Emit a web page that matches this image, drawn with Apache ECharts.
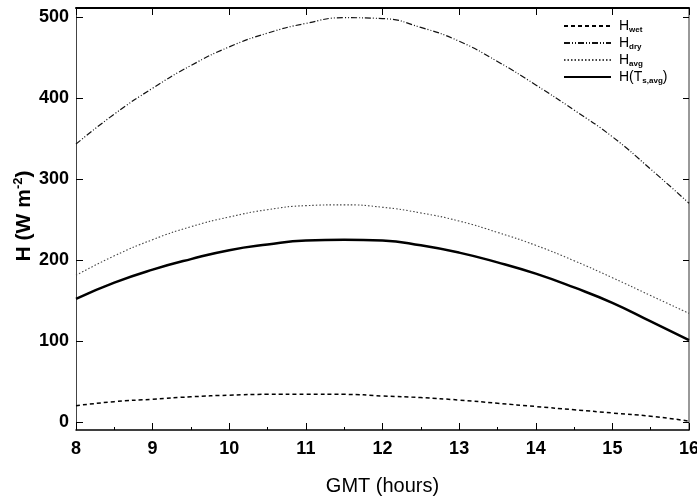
<!DOCTYPE html>
<html>
<head>
<meta charset="utf-8">
<script src="https://cdn.jsdelivr.net/npm/echarts@6/dist/echarts.min.js"></script>
<style>html,body{margin:0;padding:0;background:#fff}#c{width:697px;height:497px}</style>
</head>
<body>
<div id="c"></div>
<script>
var hours = [8, 8.5, 9, 9.5, 10, 10.5, 11, 11.5, 12, 12.5, 13, 13.5, 14, 14.5, 15, 15.5, 16];
var hWet = [20, 25, 28, 31, 33, 34, 34, 34, 32, 30, 27, 23, 19, 15, 11, 7, 1];
var hDry = [343, 380, 412, 440, 463, 480, 492, 499, 498, 487, 470, 445, 416, 385, 352, 312, 270];
var hAvg = [181, 205, 225, 241, 253, 262, 267, 268, 265, 258, 248, 234, 218, 199, 178, 156, 134];
var hTs = [152, 172, 188, 201, 212, 219, 224, 225, 224, 218, 209, 197, 183, 166, 147, 124, 101];
var yTicks = [0, 100, 200, 300, 400, 500];
var seriesNames = ['H_wet', 'H_dry', 'H_avg', 'H_Ts'];

function pairs(v){ return hours.map(function(h,i){ return [h, v[i]]; }); }
var font = 'Liberation Sans, Arial, Helvetica, sans-serif';
var chart = echarts.init(document.getElementById('c'));
var legendLabels = {
  'H_wet': '{m|H}{s|wet}',
  'H_dry': '{m|H}{s|dry}',
  'H_avg': '{m|H}{s|avg}',
  'H_Ts': '{m|H(T}{s|s,avg}{m|)}'
};
function mk(name, data, ls){
  return {name:name, type:'line', data:pairs(data), smooth:true, symbol:'none', showSymbol:false,
    xAxisIndex:0, yAxisIndex:0, lineStyle:ls, itemStyle:{color:ls.color}};
}
chart.setOption({
  animation:false,
  backgroundColor:'#fff',
  grid:{left:76, right:8, top:8, bottom:67, outerBoundsMode:'none', containLabel:false},
  legend:{
    orient:'vertical', left:558, top:13, itemWidth:47, itemHeight:16, itemGap:1,
    data:seriesNames,
    itemStyle:{opacity:0},
    formatter:function(n){ return legendLabels[n]; },
    textStyle:{fontFamily:font, color:'#000', lineHeight:16, padding:[0,0,0,3],
      rich:{m:{fontSize:14, fontFamily:font, color:'#000', lineHeight:16},
            s:{fontSize:8, fontWeight:'bold', fontFamily:font, color:'#000', verticalAlign:'bottom', lineHeight:16}}}
  },
  xAxis:[{
    type:'value', min:8, max:16, interval:1, position:'bottom',
    name:'GMT (hours)', nameLocation:'middle', nameGap:46, nameMoveOverlap:false,
    nameTextStyle:{fontFamily:font, fontSize:20, color:'#000'},
    axisLine:{onZero:false, lineStyle:{color:'#000', width:1.5}},
    axisTick:{inside:true, length:7, lineStyle:{color:'#000'}},
    minorTick:{show:true, splitNumber:2, length:3, lineStyle:{color:'#000'}},
    splitLine:{show:false},
    axisLabel:{fontFamily:font, fontSize:18, fontWeight:'bold', color:'#000', margin:10}
  },{
    type:'value', min:8, max:16, interval:1, position:'top',
    axisLine:{onZero:false, lineStyle:{color:'#000', width:2}},
    axisTick:{inside:true, length:7, lineStyle:{color:'#000'}},
    axisLabel:{show:false}, splitLine:{show:false}
  }],
  yAxis:[{
    type:'value', min:-10, max:511, position:'left',
    name:'{a|H (W m}{b|-2}{a|)}', nameLocation:'middle', nameGap:40, nameRotate:90, nameMoveOverlap:false,
    nameTextStyle:{fontFamily:font, color:'#000', padding:[0,0,0,6],
      rich:{a:{fontSize:21, fontWeight:'bold', fontFamily:font, color:'#000', lineHeight:24},
            b:{fontSize:13, fontWeight:'bold', fontFamily:font, color:'#000', verticalAlign:'top', lineHeight:24}}},
    axisLine:{onZero:false, lineStyle:{color:'#444', width:1}},
    axisTick:{inside:true, length:7, customValues:yTicks, lineStyle:{color:'#000'}},
    axisLabel:{customValues:yTicks, fontFamily:font, fontSize:18, fontWeight:'bold', color:'#000', margin:7},
    splitLine:{show:false}
  },{
    type:'value', min:-10, max:511, position:'right',
    axisLine:{show:true, onZero:false, lineStyle:{color:'#777', width:1.5}},
    axisTick:{show:true, inside:true, length:6, customValues:yTicks, lineStyle:{color:'#000'}},
    axisLabel:{show:false}, splitLine:{show:false}
  }],
  series:[
    mk('H_wet', hWet, {color:'#000', width:1.5, type:[4,3]}),
    mk('H_dry', hDry, {color:'#111', width:1.2, type:[6,2,1,2,1,2]}),
    mk('H_avg', hAvg, {color:'#444', width:1.1, type:[1.5,2]}),
    mk('H_Ts', hTs, {color:'#000', width:2.5, type:'solid'})
  ]
});
</script>
</body>
</html>
